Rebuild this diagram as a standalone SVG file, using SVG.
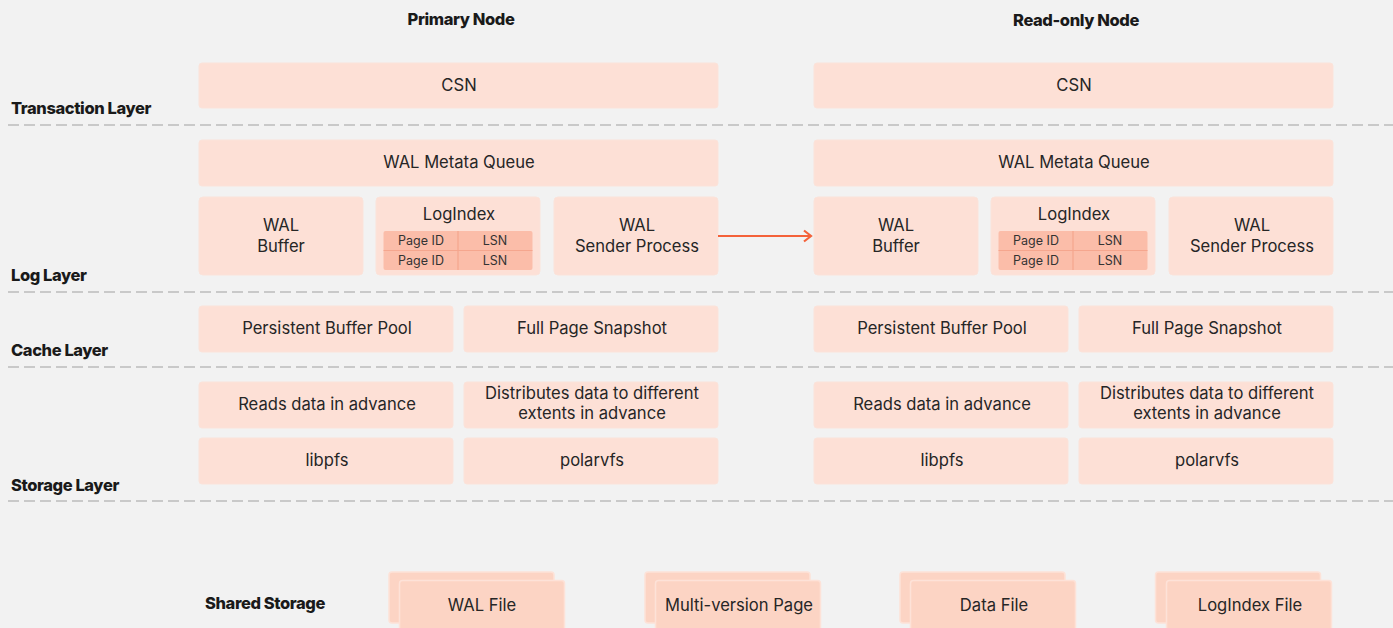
<svg xmlns="http://www.w3.org/2000/svg" width="1393" height="628" viewBox="0 0 1393 628">
<defs>
<style>
.bg{fill:#f2f2f2}
.box{fill:#fde0d6;stroke:#fbe3da;stroke-width:1}
.sbox{fill:#fcd4c4;stroke:#fde2d8;stroke-width:1.5}
.tbl{fill:#fbbda9}
.tl{stroke:#f5a68e;stroke-width:1.2}
.t{font-family:Inter,"Liberation Sans",sans-serif;font-size:16.6px;fill:#262626;text-anchor:middle}
.ts{font-family:Inter,"Liberation Sans",sans-serif;font-size:12.5px;fill:#333;text-anchor:middle}
.h{font-family:Inter,"Liberation Sans",sans-serif;font-size:16.5px;font-weight:800;fill:#1a1a1a;letter-spacing:-0.4px}
.dash{stroke:#c9c9c9;stroke-width:2;stroke-dasharray:11 5;fill:none}
.conn{stroke:#f4623a;stroke-width:2.2;fill:none}
</style>
<marker id="arr" viewBox="0 0 14 14" refX="12" refY="7" markerWidth="14" markerHeight="14" markerUnits="userSpaceOnUse" orient="auto">
<path d="M5,1.5 L12,7 L5,12.5" fill="none" stroke="#f4623a" stroke-width="2.2"/>
</marker>
</defs>
<rect class="bg" x="0" y="0" width="1393" height="628"/>

<g id="layer-lines">
<line class="dash" x1="8" y1="125" x2="1393" y2="125"/>
<line class="dash" x1="8" y1="292" x2="1393" y2="292"/>
<line class="dash" x1="8" y1="367" x2="1393" y2="367"/>
<line class="dash" x1="8" y1="501" x2="1393" y2="501"/>
</g>

<g id="labels">
<text class="h" x="461" y="25" text-anchor="middle">Primary Node</text>
<text class="h" x="1076" y="26" text-anchor="middle">Read-only Node</text>
<text class="h" x="11" y="114">Transaction Layer</text>
<text class="h" x="11" y="281">Log Layer</text>
<text class="h" x="11" y="356">Cache Layer</text>
<text class="h" x="11" y="491">Storage Layer</text>
<text class="h" x="205" y="609">Shared Storage</text>
</g>

<g id="primary-csn"><rect class="box" x="199" y="63" width="519" height="45" rx="3"/><text class="t" x="459" y="91">CSN</text></g>
<g id="primary-walq"><rect class="box" x="199" y="140" width="519" height="46" rx="3"/><text class="t" x="459" y="168">WAL Metata Queue</text></g>
<g id="primary-walbuf"><rect class="box" x="199" y="197" width="164" height="78" rx="4"/><text class="t" x="281" y="231">WAL</text><text class="t" x="281" y="252">Buffer</text></g>
<g id="primary-logindex"><rect class="box" x="376" y="197" width="164" height="78" rx="4"/><text class="t" x="459" y="220">LogIndex</text>
<rect class="tbl" x="383.5" y="231" width="149" height="39" rx="2"/>
<line class="tl" x1="383.5" y1="250.5" x2="532.5" y2="250.5"/><line class="tl" x1="458" y1="231" x2="458" y2="270"/>
<text class="ts" x="421" y="245">Page ID</text><text class="ts" x="495" y="245">LSN</text>
<text class="ts" x="421" y="265">Page ID</text><text class="ts" x="495" y="265">LSN</text></g>
<g id="primary-walsender"><rect class="box" x="554" y="197" width="164" height="78" rx="4"/><text class="t" x="637" y="231">WAL</text><text class="t" x="637" y="252">Sender Process</text></g>
<g id="primary-pbp"><rect class="box" x="199" y="306" width="254" height="46" rx="3"/><text class="t" x="327" y="334">Persistent Buffer Pool</text></g>
<g id="primary-fps"><rect class="box" x="464" y="306" width="254" height="46" rx="3"/><text class="t" x="592" y="334">Full Page Snapshot</text></g>
<g id="primary-read"><rect class="box" x="199" y="382" width="254" height="46" rx="3"/><text class="t" x="327" y="410">Reads data in advance</text></g>
<g id="primary-dist"><rect class="box" x="464" y="382" width="254" height="46" rx="3"/><text class="t" x="592" y="399">Distributes data to different</text><text class="t" x="592" y="419">extents in advance</text></g>
<g id="primary-libpfs"><rect class="box" x="199" y="438" width="254" height="46" rx="3"/><text class="t" x="327" y="466">libpfs</text></g>
<g id="primary-polarvfs"><rect class="box" x="464" y="438" width="254" height="46" rx="3"/><text class="t" x="592" y="466">polarvfs</text></g>

<g id="ro-csn"><rect class="box" x="814" y="63" width="519" height="45" rx="3"/><text class="t" x="1074" y="91">CSN</text></g>
<g id="ro-walq"><rect class="box" x="814" y="140" width="519" height="46" rx="3"/><text class="t" x="1074" y="168">WAL Metata Queue</text></g>
<g id="ro-walbuf"><rect class="box" x="814" y="197" width="164" height="78" rx="4"/><text class="t" x="896" y="231">WAL</text><text class="t" x="896" y="252">Buffer</text></g>
<g id="ro-logindex"><rect class="box" x="991" y="197" width="164" height="78" rx="4"/><text class="t" x="1074" y="220">LogIndex</text>
<rect class="tbl" x="998.5" y="231" width="149" height="39" rx="2"/>
<line class="tl" x1="998.5" y1="250.5" x2="1147.5" y2="250.5"/><line class="tl" x1="1073" y1="231" x2="1073" y2="270"/>
<text class="ts" x="1036" y="245">Page ID</text><text class="ts" x="1110" y="245">LSN</text>
<text class="ts" x="1036" y="265">Page ID</text><text class="ts" x="1110" y="265">LSN</text></g>
<g id="ro-walsender"><rect class="box" x="1169" y="197" width="164" height="78" rx="4"/><text class="t" x="1252" y="231">WAL</text><text class="t" x="1252" y="252">Sender Process</text></g>
<g id="ro-pbp"><rect class="box" x="814" y="306" width="254" height="46" rx="3"/><text class="t" x="942" y="334">Persistent Buffer Pool</text></g>
<g id="ro-fps"><rect class="box" x="1079" y="306" width="254" height="46" rx="3"/><text class="t" x="1207" y="334">Full Page Snapshot</text></g>
<g id="ro-read"><rect class="box" x="814" y="382" width="254" height="46" rx="3"/><text class="t" x="942" y="410">Reads data in advance</text></g>
<g id="ro-dist"><rect class="box" x="1079" y="382" width="254" height="46" rx="3"/><text class="t" x="1207" y="399">Distributes data to different</text><text class="t" x="1207" y="419">extents in advance</text></g>
<g id="ro-libpfs"><rect class="box" x="814" y="438" width="254" height="46" rx="3"/><text class="t" x="942" y="466">libpfs</text></g>
<g id="ro-polarvfs"><rect class="box" x="1079" y="438" width="254" height="46" rx="3"/><text class="t" x="1207" y="466">polarvfs</text></g>

<g id="shared-wal"><rect class="sbox" x="389" y="572" width="165" height="51" rx="3"/><rect class="sbox" x="399.5" y="580.5" width="165" height="60" rx="3"/><text class="t" x="482" y="611">WAL File</text></g>
<g id="shared-mvp"><rect class="sbox" x="645" y="572" width="165" height="51" rx="3"/><rect class="sbox" x="655.5" y="580.5" width="165" height="60" rx="3"/><text class="t" x="739" y="611">Multi-version Page</text></g>
<g id="shared-data"><rect class="sbox" x="900" y="572" width="165" height="51" rx="3"/><rect class="sbox" x="910.5" y="580.5" width="165" height="60" rx="3"/><text class="t" x="994" y="611">Data File</text></g>
<g id="shared-logindex"><rect class="sbox" x="1155.5" y="572" width="165" height="51" rx="3"/><rect class="sbox" x="1166.5" y="580.5" width="165" height="60" rx="3"/><text class="t" x="1250" y="611">LogIndex File</text></g>

<g id="connectors">
<line class="conn" x1="718" y1="236" x2="811" y2="236" marker-end="url(#arr)"/>
</g>
</svg>
